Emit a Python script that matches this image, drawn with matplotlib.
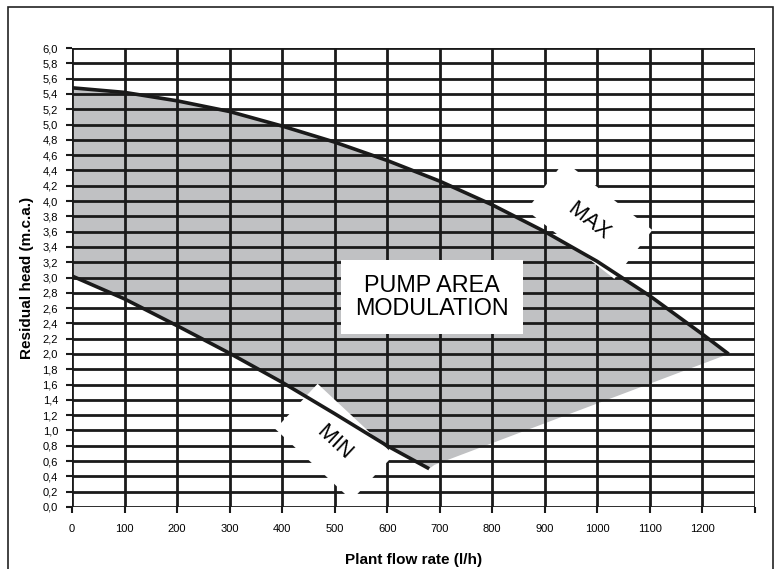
import matplotlib
matplotlib.use("Agg")
import matplotlib.pyplot as plt
from matplotlib.patches import Rectangle

plt.rcParams["font.family"] = ["Liberation Sans", "DejaVu Sans"]

# =====================================================
# DATA
# =====================================================

max_flow = [0, 100, 200, 300, 400, 500, 600, 700, 800, 900, 1000, 1100, 1200, 1250]
max_head = [5.48, 5.42, 5.31, 5.17, 4.98, 4.77, 4.53, 4.26, 3.95, 3.6, 3.21, 2.76, 2.26, 2.0]

min_flow = [0, 100, 200, 300, 400, 500, 600, 680]
min_head = [3.02, 2.72, 2.37, 2.01, 1.63, 1.22, 0.8, 0.5]

# lower edge of the shaded area
edge_flow = [690, 1250]
edge_head = [0.55, 2.0]

x_ticks = list(range(0, 1300, 100))
y_ticks = [i * 0.2 for i in range(31)]
y_labels = [f"{v:.1f}".replace(".", ",") for v in y_ticks]

# =====================================================
# FIGURE
# =====================================================

fig = plt.figure(figsize=(7.79, 5.69), dpi=100)
ax = fig.add_axes([0.0924, 0.109, 0.8766, 0.8066])

# outer frame
fig.patches.append(Rectangle((8 / 779, -0.01), 765 / 779, 1 - 7 / 569 + 0.01,
                             transform=fig.transFigure, fill=False,
                             edgecolor="#222222", linewidth=1.2))

# shaded area
poly_x = max_flow + edge_flow[::-1] + min_flow[::-1]
poly_y = max_head + edge_head[::-1] + min_head[::-1]
ax.fill(poly_x, poly_y, color="#c0c1c3", linewidth=0, zorder=1)

# grid
for x in range(0, 1400, 100):
    ax.axvline(x, color="#1a1a1a", linewidth=2.0, zorder=2)
for y in y_ticks:
    ax.axhline(y, color="#1a1a1a", linewidth=2.0, zorder=2)

# label boxes (cover grid, under curves)
ax.text(985, 3.75, "  MAX  ", rotation=-38, fontsize=15.5, ha="center", va="center",
        rotation_mode="anchor", zorder=3,
        bbox=dict(boxstyle="square,pad=0.95", facecolor="white", edgecolor="none"))
ax.text(500, 0.85, "  MIN  ", rotation=-43, fontsize=15.5, ha="center", va="center",
        rotation_mode="anchor", zorder=3,
        bbox=dict(boxstyle="square,pad=0.95", facecolor="white", edgecolor="none"))
ax.text(685, 2.74, "PUMP AREA\nMODULATION", fontsize=16.8, ha="center", va="center",
        linespacing=1.0, zorder=3,
        bbox=dict(boxstyle="square,pad=0.6", facecolor="white", edgecolor="none"))

# curves
ax.plot(max_flow, max_head, color="#1a1a1a", linewidth=2.6, zorder=4,
        solid_capstyle="butt")
ax.plot(min_flow, min_head, color="#1a1a1a", linewidth=2.6, zorder=4,
        solid_capstyle="butt")

ax.set_xlim(0, 1300)
ax.set_ylim(0, 6.0)
ax.set_xticks(x_ticks + [1300])
ax.set_xticklabels([str(v) for v in x_ticks] + [""])
ax.set_yticks(y_ticks)
ax.set_yticklabels(y_labels)
ax.tick_params(axis="both", labelsize=8, length=4, width=1.5, color="#1a1a1a",
               pad=6)
ax.tick_params(axis="x", pad=8)
for s in ax.spines.values():
    s.set_visible(False)

ax.set_xlabel("Plant flow rate (l/h)", fontsize=11, fontweight="bold", labelpad=14)
ax.set_ylabel("Residual head (m.c.a.)", fontsize=11, fontweight="bold", labelpad=6)

fig.savefig("out.png", dpi=100)
